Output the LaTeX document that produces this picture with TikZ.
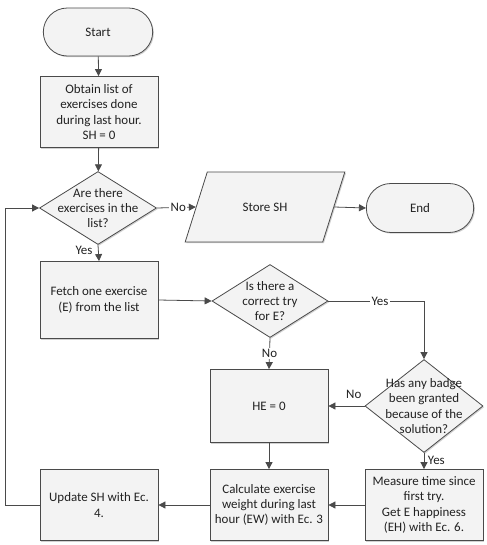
\documentclass[tikz,border=0pt]{standalone}
\usepackage{fontspec}
\setmainfont{Carlito}
\usetikzlibrary{arrows.meta,shapes.geometric,shapes.misc,shadows}
\definecolor{linegray}{HTML}{4A4A4A}
\definecolor{boxfill}{HTML}{F3F3F3}
\definecolor{textgray}{HTML}{222222}

\begin{document}
\begin{tikzpicture}[x=1bp, y=-1bp,
	every node/.style={font=\fontsize{13}{15.4}\selectfont, text=textgray},
	base/.style={draw=linegray, line width=0.8pt, fill=boxfill, drop shadow={shadow xshift=1.2pt, shadow yshift=-1.2pt, fill=black!30, opacity=0.6}},
	terminal/.style={base, rounded rectangle, minimum width=116bp, minimum height=48bp},
	process/.style={base, rectangle, align=center, minimum width=118bp, minimum height=71bp, inner sep=1pt},
	decision/.style={base, diamond, minimum width=117bp, minimum height=73bp, inner sep=0pt},
	decisiontext/.style={align=center, inner sep=0pt},
	iobox/.style={base, trapezium, trapezium left angle=57, trapezium right angle=123, trapezium stretches=true, minimum width=160bp, minimum height=70bp},
	flow/.style={draw=linegray, line width=0.8pt, -{Triangle[length=7bp, width=7bp]}},
	tag/.style={font=\fontsize{13}{13}\selectfont, inner sep=1.5pt}]
	\useasboundingbox (0,0) rectangle (487,545);

	\node[terminal] (start) at (98,32) {Start};
	\node[process] (obtain) at (99,112) {Obtain list of\\exercises done\\during last hour.\\SH = 0};
	\node[decision] (q1) at (98,208) {};
	\node[decisiontext] (q1t) at (q1) {Are there\\exercises in the\\list?};
	\node[iobox] (store) at (265,207) {Store SH};
	\node[terminal, minimum width=114bp, minimum height=49bp] (end) at (420,208) {End};
	\node[process, minimum height=77bp] (fetch) at (99,300) {Fetch one exercise\\(E) from the list};
	\node[decision, minimum width=116bp] (q2) at (270,301) {};
	\node[decisiontext] (q2t) at (q2) {Is there a\\correct try\\for E?};
	\node[decision, minimum width=118bp, minimum height=93bp] (q3) at (424,406) {};
	\node[decisiontext] (q3t) at (q3) {Has any badge\\been granted\\because of the\\solution?};
	\node[process, minimum height=73bp] (he) at (269,406) {HE = 0};
	\node[process] (calc) at (269,505) {Calculate exercise\\weight during last\\hour (EW) with Ec. 3};
	\node[process] (measure) at (424,505) {Measure time since\\first try.\\Get E happiness\\(EH) with Ec. 6.};
	\node[process] (update) at (99,505) {Update SH with Ec.\\4.};
	\coordinate (loop) at (5,505);

	\draw[flow] (start) -- (obtain);
	\draw[flow] (obtain) -- (q1);
	\draw[flow] (q1.east) -- node[tag, fill=white, pos=0.55] {No} (store.west);
	\draw[flow] (store.east) -- (end.west);
	\draw[flow] (q1.south) -- node[tag, left=4pt, pos=0.35] {Yes} (fetch.north);
	\draw[flow] (fetch.east) -- (q2.west);
	\draw[flow] (q2.east) -| node[tag, fill=white, pos=0.27] {Yes} (q3.north);
	\draw[flow] (q2.south) -- node[tag, fill=white] {No} (he.north);
	\draw[flow] (q3.west) -- node[tag, above=6pt, pos=0.3] {No} (he.east);
	\draw[flow] (q3.south) -- node[tag, right=2pt, pos=0.45] {Yes} (measure.north);
	\draw[flow] (he.south) -- (calc.north);
	\draw[flow] (measure.west) -- (calc.east);
	\draw[flow] (calc.west) -- (update.east);
	\draw[flow] (update.west) -- (loop) |- (q1.west);
\end{tikzpicture}
\end{document}
